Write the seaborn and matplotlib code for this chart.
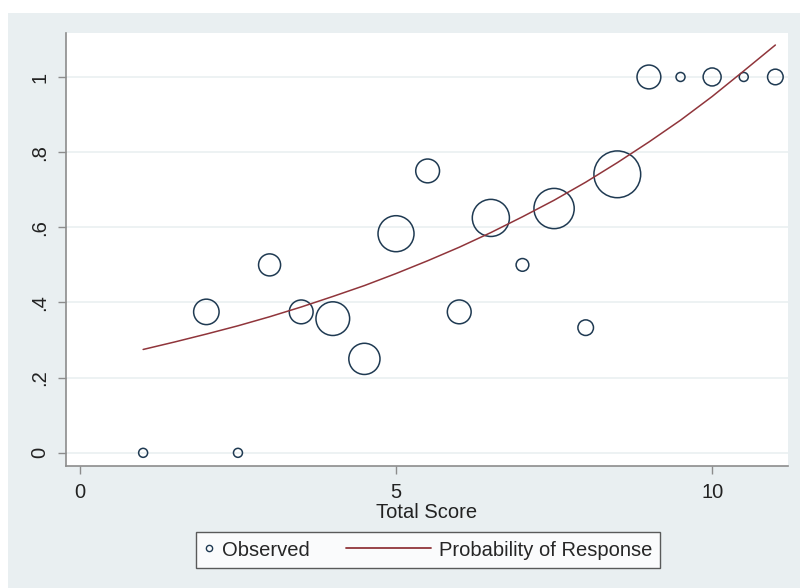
import matplotlib
matplotlib.use("Agg")
import matplotlib.pyplot as plt
from matplotlib.lines import Line2D
from matplotlib.patches import Rectangle
from matplotlib.legend_handler import HandlerLine2D
import seaborn as sns
import pandas as pd

# observed proportions, grouped by total score (marker area ~ group size)
score = [1, 2, 2.5, 3, 3.5, 4, 4.5, 5, 5.5, 6, 6.5, 7, 7.5, 8, 8.5, 9, 9.5, 10, 10.5, 11]
observed = [0, 0.375, 0, 0.5, 0.375, 0.357, 0.25, 0.583, 0.75, 0.375,
            0.625, 0.5, 0.65, 0.333, 0.741, 1, 1, 1, 1, 1]
group_n = [1, 8, 1, 6, 7, 14, 12, 16, 7, 7, 17, 2, 20, 3, 27, 7, 1, 4, 1, 3]

# fitted probability curve
curve_x = [1, 1.5, 2, 2.5, 3, 3.5, 4, 4.5, 5, 5.5, 6, 6.5, 7, 7.5, 8, 8.5,
           9, 9.5, 10, 10.5, 11]
curve_y = [0.275, 0.295, 0.316, 0.338, 0.362, 0.388, 0.416, 0.445, 0.477,
           0.511, 0.547, 0.586, 0.628, 0.672, 0.720, 0.772, 0.827, 0.885,
           0.948, 1.016, 1.085]

y_ticks = [0, 0.2, 0.4, 0.6, 0.8, 1]
y_ticklabels = ["0", ".2", ".4", ".6", ".8", "1"]
x_ticks = [0, 5, 10]

df = pd.DataFrame({"score": score, "observed": observed, "n": group_n})
fit = pd.DataFrame({"score": curve_x, "prob": curve_y})

sns.set_theme(style="white")
plt.rcParams["font.family"] = ["Liberation Sans", "DejaVu Sans"]

bg = "#e9eff1"
navy = "#1f3a52"
maroon = "#90353b"
axis_grey = "#8c8c8c"
txt = "#222222"
fs = 14.5


class LongLineHandler(HandlerLine2D):
    # stretch the legend line to the left so the marker entry can stay short
    def create_artists(self, legend, orig_handle, xdescent, ydescent,
                       width, height, fontsize, trans):
        arts = super().create_artists(legend, orig_handle, xdescent, ydescent,
                                      width, height, fontsize, trans)
        for a in arts:
            a.set_xdata([-xdescent - 54, -xdescent + width])
            a.set_ydata([height / 2 - ydescent] * 2)
        return arts


fig = plt.figure(figsize=(8, 5.88), dpi=100, facecolor="white")
# stata-like graph region (white strip on top and left)
fig.patches.append(Rectangle((0.01, 0), 0.99, 0.978, transform=fig.transFigure,
                             facecolor=bg, edgecolor="none", zorder=-10))

ax = fig.add_axes([0.0825, 0.2075, 0.9025, 0.7364])
ax.set_zorder(1)
ax.set_facecolor("white")

for t in y_ticks:
    ax.axhline(t, color="#edf2f3", lw=1.4, zorder=0)

sns.scatterplot(data=df, x="score", y="observed", size="n",
                sizes=(42, 42 * 27), size_norm=(1, 27),
                legend=False, ax=ax, zorder=3)
pts = ax.collections[-1]
pts.set_facecolor("none")
pts.set_edgecolor(navy)
pts.set_linewidth(1.1)

sns.lineplot(data=fit, x="score", y="prob", color=maroon, lw=1.1, ax=ax, zorder=4)

ax.set_xlim(-0.22, 11.2)
ax.set_ylim(-0.035, 1.117)
ax.set_xticks(x_ticks)
ax.set_yticks(y_ticks)
ax.set_yticklabels(y_ticklabels, rotation=90, va="center")
ax.tick_params(axis="both", direction="out", length=6, width=1, color=axis_grey,
               labelsize=fs, labelcolor=txt, pad=6)
ax.tick_params(axis="y", left=True)
ax.tick_params(axis="x", bottom=True)

for side in ["top", "right"]:
    ax.spines[side].set_visible(False)
for side in ["left", "bottom"]:
    ax.spines[side].set_color(axis_grey)
    ax.spines[side].set_linewidth(1.2)

ax.set_xlabel("Total Score", fontsize=fs, color=txt, labelpad=1)
ax.set_ylabel("")

obs_handle = Line2D([], [], marker="o", ls="none", markersize=4.5,
                    markerfacecolor="none", markeredgecolor=navy, markeredgewidth=1)
fit_handle = Line2D([], [], color=maroon, lw=1.3)
leg = fig.legend([obs_handle, fit_handle], ["Observed", "Probability of Response"],
                 ncol=2, loc="center", bbox_to_anchor=(428 / 800, 1 - 550 / 588),
                 frameon=True, fancybox=False, fontsize=fs,
                 handlelength=0.5, handletextpad=0.4, columnspacing=5.5,
                 borderpad=0.4, handler_map={fit_handle: LongLineHandler()})
leg.get_frame().set_edgecolor("#333333")
leg.get_frame().set_linewidth(1)
leg.get_frame().set_facecolor("white")

fig.savefig("out.png", dpi=100, facecolor=fig.get_facecolor())
